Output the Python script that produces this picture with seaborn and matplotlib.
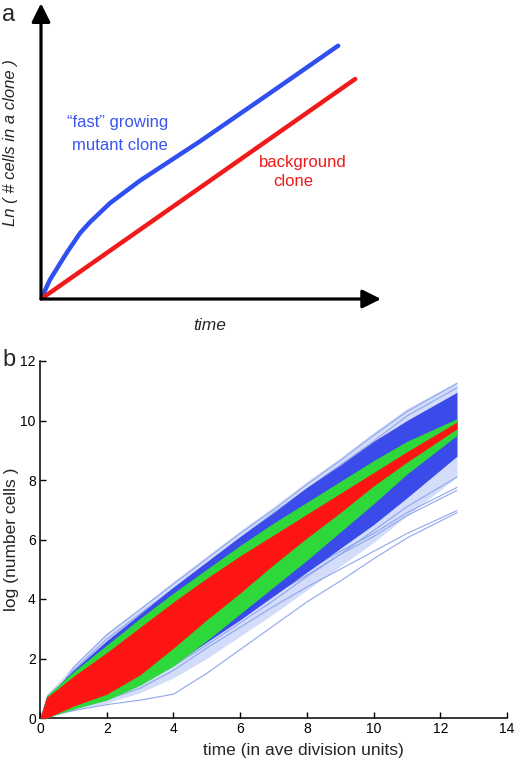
import matplotlib
matplotlib.use("Agg")
import numpy as np
import pandas as pd
import matplotlib.pyplot as plt
import seaborn as sns

# ---- panel a: schematic growth curves (arbitrary units) ----
sketch_time = [0, 0.26, 0.75, 1.15, 1.44, 2.03, 2.91, 4.68, 6.64, 8.74]
sketch_fast = [0, 0.56, 1.35, 1.94, 2.26, 2.82, 3.48, 4.64, 5.99, 7.45]
sketch_bg_time = [0, 9.24]
sketch_bg = [0, 6.47]

# ---- panel b: envelopes of the simulated clone trajectories ----
t_grid = [0, 0.2, 0.5, 1, 2, 3, 4, 5, 6, 7, 8, 9, 10, 11, 12.5]
light_hi = [0, 0.8, 1.15, 1.75, 2.85, 3.7, 4.6, 5.45, 6.3, 7.1, 7.95, 8.75, 9.6, 10.4, 11.3]
light_lo = [0, 0, 0.1, 0.25, 0.5, 0.85, 1.35, 2.0, 2.75, 3.5, 4.3, 5.1, 5.9, 6.8, 8.1]
blue_hi = [0, 0.75, 1.05, 1.6, 2.6, 3.5, 4.4, 5.25, 6.1, 6.9, 7.75, 8.5, 9.3, 10.0, 10.95]
blue_lo = [0, 0, 0.15, 0.35, 0.7, 1.15, 1.8, 2.55, 3.3, 4.1, 4.9, 5.7, 6.5, 7.4, 8.8]
green_hi = [0, 0.75, 1.05, 1.55, 2.45, 3.35, 4.2, 5.0, 5.8, 6.55, 7.25, 7.95, 8.65, 9.3, 10.06]
green_lo = [0, 0, 0.12, 0.3, 0.6, 1.1, 1.75, 2.6, 3.5, 4.4, 5.3, 6.25, 7.2, 8.2, 9.5]
red_hi = [0, 0.7, 0.95, 1.4, 2.2, 3.05, 3.9, 4.7, 5.45, 6.15, 6.85, 7.55, 8.25, 8.95, 9.95]
red_lo = [0, 0, 0.15, 0.4, 0.8, 1.45, 2.35, 3.3, 4.2, 5.15, 6.05, 6.9, 7.8, 8.6, 9.72]

# individual sparse trajectories at the edges of the bundle
t_out = [0, 1, 2, 3, 4, 5, 6, 7, 8, 9, 10, 11, 12.5]
edge_traces = {
    "o1": [0, 0.25, 0.45, 0.6, 0.8, 1.5, 2.3, 3.1, 3.9, 4.6, 5.35, 6.05, 6.9],
    "o2": [0, 0.3, 0.62, 1.0, 1.6, 2.35, 3.05, 3.75, 4.4, 5.0, 5.6, 6.2, 6.97],
    "o3": [0, 0.35, 0.85, 1.45, 2.1, 2.8, 3.5, 4.25, 4.95, 5.6, 6.2, 6.9, 7.75],
    "o4": [0, 0.35, 0.8, 1.3, 1.95, 2.7, 3.45, 4.15, 4.8, 5.5, 6.1, 6.8, 7.65],
    "o5": [0, 0.3, 0.7, 1.15, 1.75, 2.45, 3.2, 3.95, 4.75, 5.5, 6.3, 7.1, 8.1],
    "u1": [0, 1.7, 2.8, 3.65, 4.5, 5.35, 6.2, 7.0, 7.85, 8.65, 9.5, 10.3, 11.25],
    "u2": [0, 1.6, 2.65, 3.5, 4.35, 5.2, 6.05, 6.9, 7.7, 8.5, 9.3, 10.15, 11.1],
}

W, H = 514, 762


def fx(px):
    return px / W


def fy(py):
    return 1 - py / H


sns.set_theme(style="white")
plt.rcParams['font.family'] = ['Liberation Sans', 'DejaVu Sans']

fig = plt.figure(figsize=(W / 100, H / 100), dpi=100)

# ================= panel a =================
ax_a = fig.add_axes([fx(41), fy(299), 340 / W, 294 / H])
ax_a.set_xlim(0, 10)
ax_a.set_ylim(0, 294 / 34)
ax_a.axis('off')

arrow = dict(arrowstyle='-|>', lw=2.3, color='black', mutation_scale=28,
             shrinkA=0, shrinkB=0)
ax_a.annotate('', xy=(10, 0), xytext=(0, 0), arrowprops=arrow, annotation_clip=False)
ax_a.annotate('', xy=(0, 294 / 34 + 0.05), xytext=(0, 0), arrowprops=arrow,
              annotation_clip=False)

df_fast = pd.DataFrame({"t": sketch_time, "v": sketch_fast})
df_bg = pd.DataFrame({"t": sketch_bg_time, "v": sketch_bg})
sns.lineplot(data=df_fast, x="t", y="v", ax=ax_a, color='#2f4ff0', lw=3.2,
             sort=False, estimator=None)
sns.lineplot(data=df_bg, x="t", y="v", ax=ax_a, color='#f01a1a', lw=3.2,
             sort=False, estimator=None)

blue_txt = '#3a55f0'
red_txt = '#f01a1a'
fig.text(fx(118), fy(122), '\u201cfast\u201d growing', color=blue_txt, fontsize=12,
         ha='center', va='center')
fig.text(fx(120), fy(146), 'mutant clone', color=blue_txt, fontsize=12,
         ha='center', va='center')
fig.text(fx(303), fy(162), 'background', color=red_txt, fontsize=12,
         ha='center', va='center')
fig.text(fx(293), fy(182), 'clone', color=red_txt, fontsize=12,
         ha='center', va='center')
fig.text(fx(11), fy(143), 'Ln ( # cells in a clone )', fontsize=12, style='italic',
         rotation=90, ha='center', va='center')
fig.text(fx(210), fy(325), 'time', fontsize=12.5, style='italic',
         ha='center', va='center')
fig.text(fx(8.5), fy(15), 'a', fontsize=17, ha='center', va='center')
fig.text(fx(8.5), fy(360), 'b', fontsize=17, ha='center', va='center')

# ================= panel b =================
ax_b = fig.add_axes([fx(40), fy(718), 467 / W, 357 / H])

ax_b.fill_between(t_grid, light_lo, light_hi, color='#d3dcf8', lw=0, zorder=1)
ax_b.fill_between(t_grid, blue_lo, blue_hi, color='#2a3be8', alpha=0.9, lw=0, zorder=2)
ax_b.fill_between(t_grid, green_lo, green_hi, color='#2fd83a', lw=0, zorder=3)
ax_b.fill_between(t_grid, red_lo, red_hi, color='#ff1414', lw=0, zorder=4)

for name, vals in edge_traces.items():
    d = pd.DataFrame({"t": t_out, "v": vals})
    sns.lineplot(data=d, x="t", y="v", ax=ax_b, color='#8fa6ee', lw=0.8,
                 estimator=None, zorder=1.5)

ax_b.set_xlim(0, 14)
ax_b.set_ylim(0, 12)
ax_b.set_xticks(np.arange(0, 15, 2))
ax_b.set_yticks(np.arange(0, 13, 2))
ax_b.tick_params(direction='in', length=4, width=1, labelsize=10, pad=3,
                 bottom=True, left=True, colors='black')
for side in ['top', 'right']:
    ax_b.spines[side].set_visible(False)
for side in ['left', 'bottom']:
    ax_b.spines[side].set_color('black')
    ax_b.spines[side].set_linewidth(1.1)
ax_b.set_xlabel('time (in ave division units)', fontsize=12.5, va='center')
ax_b.set_ylabel('log (number cells )', fontsize=12.5, va='center', ha='center')
ax_b.xaxis.set_label_coords((303 - 40) / 467, -(751 - 718) / 357)
ax_b.yaxis.set_label_coords(-(40 - 12) / 467, 0.5)

fig.savefig("out.png", dpi=100)
